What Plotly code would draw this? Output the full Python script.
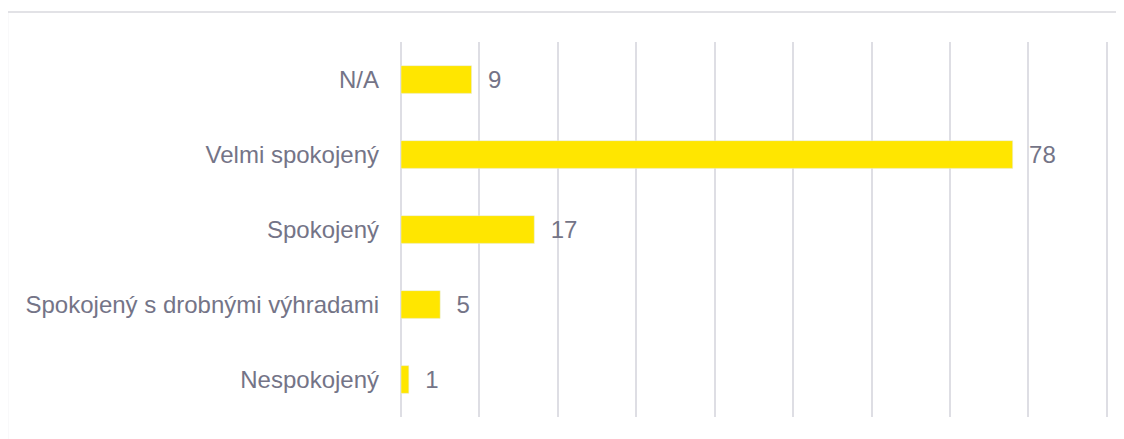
import plotly.graph_objects as go

categories = ["N/A", "Velmi spokojený", "Spokojený", "Spokojený s drobnými výhradami", "Nespokojený"]
counts = [9, 78, 17, 5, 1]

YELLOW = "#FFE600"
TEXT = "#747487"
GRID = "#DEDEE4"

fig = go.Figure(go.Bar(
    x=counts,
    y=categories,
    orientation="h",
    width=0.37,
    marker_color=YELLOW,
    text=counts,
    texttemplate="  %{x}",
    textposition="outside",
    textfont=dict(color=TEXT, size=24),
    cliponaxis=False,
))

# light frame around the chart area (cropped at right/bottom in the original)
fig.add_shape(type="rect", xref="paper", yref="paper",
              x0=-0.5567, x1=1.2, y0=-0.3, y1=1.08,
              line=dict(color="#D9D9DE", width=1.5), layer="below")

# page body has an 8px margin, so the figure is a bit smaller than the window
fig.update_layout(
    width=1116, height=431,
    margin=dict(l=393, r=16, t=34, b=22),
    paper_bgcolor="white", plot_bgcolor="white",
    font=dict(family="Liberation Sans, Arial, sans-serif", color=TEXT, size=24),
    showlegend=False,
    xaxis=dict(range=[0, 90.15], tickvals=list(range(0, 100, 10)), showticklabels=False,
               gridcolor=GRID, gridwidth=1.5, zeroline=True, zerolinecolor=GRID,
               zerolinewidth=1.5),
    yaxis=dict(autorange="reversed", showgrid=False, ticks="",
               ticklabelstandoff=21, tickfont=dict(size=24, color=TEXT)),
)

fig.write_html("out.html")
